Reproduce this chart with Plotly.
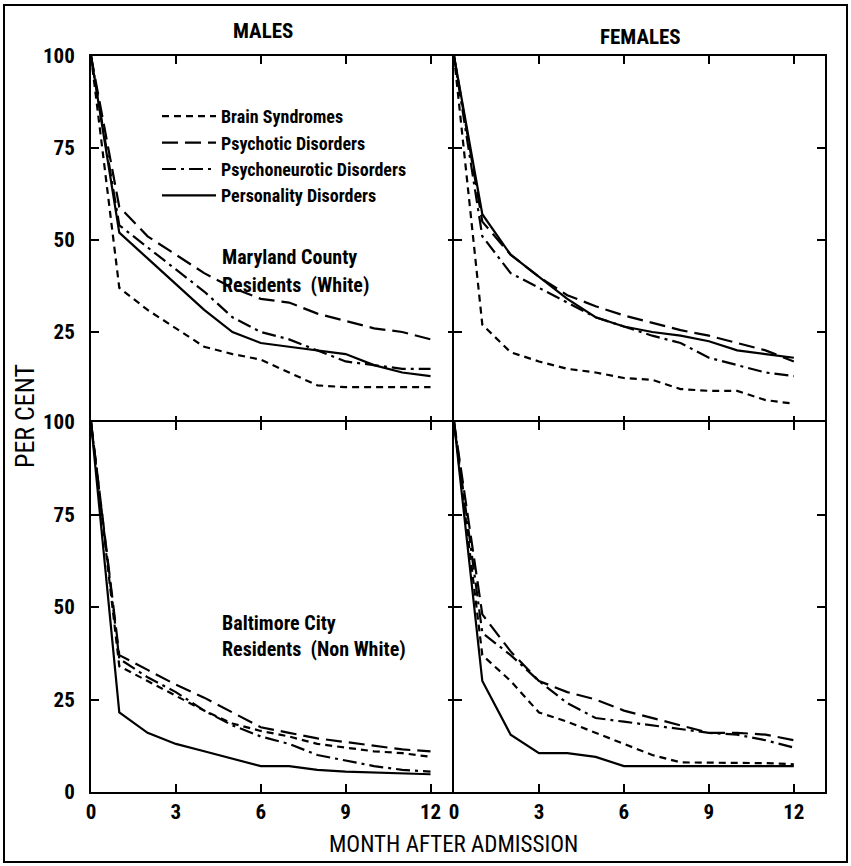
import plotly.graph_objects as go
from plotly.subplots import make_subplots

months = list(range(13))
series_names = ["Brain Syndromes", "Psychotic Disorders", "Psychoneurotic Disorders", "Personality Disorders"]

# Males, Maryland County residents (White)
m_white_brain = [100, 37, 31, 26, 21, 19, 17.5, 14, 10.5, 10, 10, 10, 10]
m_white_psychotic = [100, 59, 51, 46, 41, 37, 34, 33, 30, 28, 26, 25, 23]
m_white_psychoneurotic = [100, 54, 48, 42, 36, 29, 25, 23, 20, 17, 16, 15, 15]
m_white_personality = [100, 52, 45, 38, 31, 25, 22, 21, 20, 19, 16, 14, 13]

# Females, Maryland County residents (White)
f_white_brain = [100, 27, 19.5, 17, 15, 14, 12.5, 12, 9.5, 9, 9, 6.5, 5.5]
f_white_psychotic = [100, 55, 46, 40, 35, 32, 29.5, 27.5, 25.5, 24, 22, 20, 17]
f_white_psychoneurotic = [100, 51, 41, 37, 33, 29, 26.5, 24, 22, 18, 16, 14, 13]
f_white_personality = [100, 57, 46, 40, 34, 29, 26.5, 25, 24, 22.5, 20, 19, 18]

# Males, Baltimore City residents (Non White)
m_nw_brain = [100, 34, 30, 26, 22, 18.5, 16.5, 15, 13, 12, 11, 10.5, 9.5]
m_nw_psychotic = [100, 37, 33, 29, 25.5, 21.5, 17.5, 16, 14.5, 13.5, 12.5, 11.5, 11]
m_nw_psychoneurotic = [100, 36, 31, 27, 22, 18, 15, 13, 10, 8.5, 7, 6, 5.5]
m_nw_personality = [100, 21.5, 16, 13, 11, 9, 7, 7, 6, 5.5, 5.2, 5, 4.8]

# Females, Baltimore City residents (Non White)
f_nw_brain = [100, 37, 30, 21.5, 19, 16, 13, 10, 8, 8, 8, 7.8, 7.5]
f_nw_psychotic = [100, 48, 38, 30, 27, 25, 22, 20, 18, 16, 16, 15.5, 14]
f_nw_psychoneurotic = [100, 43, 37, 30, 24, 20, 19, 18, 17, 16, 15.5, 14, 12]
f_nw_personality = [100, 30, 15.5, 10.5, 10.5, 9.5, 7, 7, 7, 7, 7, 7, 7]

x_ticks = [0, 3, 6, 9, 12]
y_ticks_top = [25, 50, 75, 100]
y_ticks_bottom = [0, 25, 50, 75, 100]

dashes = ["7px,5px", "16px,7px", "14px,5px,3px,5px", "solid"]
FONT = "Roboto Condensed, Noto Sans Condensed, Liberation Sans Narrow, Roboto, sans-serif"

fig = make_subplots(rows=2, cols=2, horizontal_spacing=0, vertical_spacing=0)

panels = [
    (1, 1, [m_white_brain, m_white_psychotic, m_white_psychoneurotic, m_white_personality]),
    (1, 2, [f_white_brain, f_white_psychotic, f_white_psychoneurotic, f_white_personality]),
    (2, 1, [m_nw_brain, m_nw_psychotic, m_nw_psychoneurotic, m_nw_personality]),
    (2, 2, [f_nw_brain, f_nw_psychotic, f_nw_psychoneurotic, f_nw_personality]),
]
for idx, (r, c, data) in enumerate(panels):
    for name, vals, d in zip(series_names, data, dashes):
        fig.add_trace(go.Scatter(x=months, y=vals, mode="lines",
                                 name="<b>" + name + "</b>",
                                 line=dict(color="black", width=2.2, dash=d),
                                 showlegend=(idx == 0)), row=r, col=c)

W, H = 851, 866
L, R, T, B = 91, 825, 56, 792
pw, ph = R - L, B - T
LW = 2
xsplit = (456 - L) / pw
ysplit = (B - 424) / ph
dx = LW / pw
dy = LW / ph

tick_font = dict(family=FONT, size=21, color="black", weight="bold")
axis_common = dict(showline=True, linecolor="black", linewidth=LW, mirror="allticks",
                   ticks="inside", ticklen=8, tickwidth=2, tickcolor="black",
                   showgrid=False, zeroline=False, tickfont=tick_font)

fig.update_xaxes(**axis_common, tickvals=x_ticks, ticktext=[str(v) for v in x_ticks])
fig.update_xaxes(range=[0, 12.9], domain=[0, xsplit], col=1)
fig.update_xaxes(range=[0, 13.1], domain=[xsplit - dx, 1], col=2)
fig.update_xaxes(showticklabels=False, row=1)
fig.update_xaxes(showticklabels=True, ticklabelstandoff=0, row=2)

fig.update_yaxes(**axis_common, range=[0, 100])
fig.update_yaxes(domain=[ysplit, 1], tickvals=y_ticks_top, row=1)
fig.update_yaxes(domain=[0, ysplit + dy], tickvals=y_ticks_bottom, row=2)
fig.update_yaxes(showticklabels=False, col=2)
fig.update_yaxes(ticklabelstandoff=10, col=1)


def px_x(x):
    return (x - L) / pw


def px_y(y):
    return (B - y) / ph


def text_at(x, y, s, size=18, weight="bold", anchor="center", angle=0):
    fig.add_annotation(x=px_x(x), y=px_y(y), xref="paper", yref="paper", text=s,
                       showarrow=False, xanchor=anchor, yanchor="middle", textangle=angle,
                       font=dict(family=FONT, size=size, color="black", weight=weight))


text_at(263, 31, "MALES", size=21)
text_at(640, 37, "FEMALES", size=21)
text_at(25, 416, "PER CENT", size=26, weight="normal", angle=-90)
text_at(453, 845, "MONTH AFTER ADMISSION", size=23, weight="normal")
text_at(220, 257, "Maryland County", size=20, anchor="left")
text_at(220, 285, "Residents  (White)", size=20, anchor="left")
text_at(220, 623, "Baltimore City", size=20, anchor="left")
text_at(220, 649, "Residents  (Non White)", size=20, anchor="left")

# outer frame
fig.add_shape(type="rect", xref="paper", yref="paper",
              x0=px_x(4), x1=px_x(847), y0=px_y(862), y1=px_y(5),
              line=dict(color="black", width=2))

fig.update_layout(
    width=W, height=H,
    margin=dict(l=L, r=W - R, t=T, b=H - B),
    paper_bgcolor="white", plot_bgcolor="white",
    showlegend=True,
    legend=dict(x=px_x(157), y=px_y(98), xanchor="left", yanchor="top",
                bgcolor="rgba(0,0,0,0)", borderwidth=0, tracegroupgap=0,
                font=dict(family=FONT, size=18, color="black"), itemwidth=54),
    font=dict(family=FONT, color="black"),
)

fig.write_html("out.html", config={"displayModeBar": False},
               post_script="document.body.style.margin='0px';")
